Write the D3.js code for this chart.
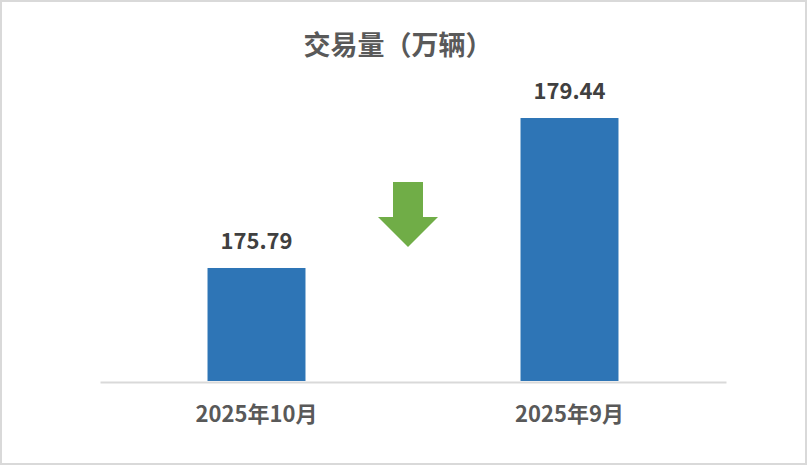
<!DOCTYPE html>
<html>
<head>
<meta charset="utf-8">
<script src="https://cdn.jsdelivr.net/npm/d3@7"></script>
<style>
  html, body { margin: 0; padding: 0; background: #fff; }
  svg { display: block; font-family: "Noto Sans CJK SC", "Noto Sans", sans-serif; }
</style>
</head>
<body>
<svg id="chart" width="808" height="466"></svg>
<script>
const title = '交易量（万辆）';
const categories = ['2025年10月', '2025年9月'];
const values = [175.79, 179.44];
const axisRange = [173.04, 180];

const width = 808;
const height = 466;
const margin = { top: 95, right: 82, bottom: 85, left: 100 };

const svg = d3.select('#chart');

// outer frame
svg.append('rect')
  .attr('x', 1).attr('y', 1)
  .attr('width', width - 3).attr('height', height - 3)
  .attr('fill', '#fff')
  .attr('stroke', '#d9d9d9')
  .attr('stroke-width', 2);

let x = d3.scaleBand()
  .domain(categories)
  .range([margin.left, width - margin.right])
  .paddingInner(0.687)
  .paddingOuter(0.3435);

let y = d3.scaleLinear()
  .domain(axisRange)
  .range([height - margin.bottom, margin.top]);

svg.append('text')
  .attr('x', 398)
  .attr('y', 55)
  .attr('text-anchor', 'middle')
  .style('font-size', '27px')
  .style('font-weight', 'bold')
  .style('fill', '#595959')
  .text(title);

// bars
svg.selectAll('.bar')
  .data(values)
  .enter()
  .append('rect')
  .attr('class', 'bar')
  .attr('x', (d, i) => x(categories[i]))
  .attr('y', d => y(d))
  .attr('width', x.bandwidth())
  .attr('height', d => y(axisRange[0]) - y(d))
  .style('fill', '#2e75b6');

// value labels
svg.selectAll('.val')
  .data(values)
  .enter()
  .append('text')
  .attr('class', 'val')
  .attr('x', (d, i) => x(categories[i]) + x.bandwidth() / 2)
  .attr('y', d => y(d) - 19)
  .attr('text-anchor', 'middle')
  .style('font-size', '22px')
  .style('font-weight', 'bold')
  .style('fill', '#404040')
  .text(d => d.toFixed(2));

// category axis
let xAxis = svg.append('g')
  .attr('transform', 'translate(0,' + (y(axisRange[0]) + 1) + ')')
  .call(d3.axisBottom(x).tickSize(0).tickPadding(24));
xAxis.select('.domain').attr('stroke', '#d9d9d9').attr('stroke-width', 2);
xAxis.selectAll('text')
  .style('font-family', '"Noto Sans CJK SC", "Noto Sans", sans-serif')
  .style('font-size', '22px')
  .style('font-weight', 'bold')
  .style('fill', '#595959');

// down arrow between bars (change from September to October)
let mid = (x(categories[0]) + x(categories[1]) + x.bandwidth()) / 2 - 5;
let arrowTop = 182, headY = 217, tip = 247;
let arrow = d3.path();
arrow.moveTo(mid - 15, arrowTop);
arrow.lineTo(mid + 15, arrowTop);
arrow.lineTo(mid + 15, headY);
arrow.lineTo(mid + 30, headY);
arrow.lineTo(mid, tip);
arrow.lineTo(mid - 30, headY);
arrow.lineTo(mid - 15, headY);
arrow.closePath();
svg.append('path')
  .attr('d', arrow.toString())
  .style('fill', '#70ad47');
</script>
</body>
</html>
